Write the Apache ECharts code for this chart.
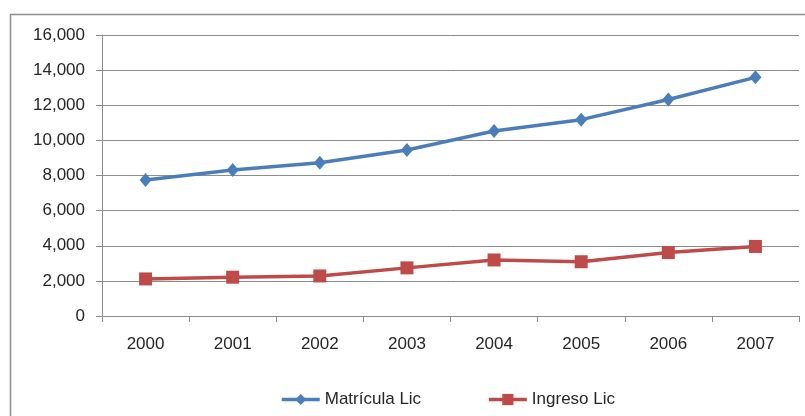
<!DOCTYPE html>
<html>
<head>
<meta charset="utf-8">
<script src="https://cdn.jsdelivr.net/npm/echarts@6/dist/echarts.min.js"></script>
<style>
html,body{margin:0;padding:0;background:#fff;}
#c{width:805px;height:416px;}
</style>
</head>
<body>
<div id="c"></div>
<script>
var categories = ['2000','2001','2002','2003','2004','2005','2006','2007'];
var matricula = [7750, 8310, 8720, 9450, 10530, 11180, 12330, 13590];
var ingreso = [2110, 2210, 2280, 2740, 3190, 3090, 3610, 3960];
var seriesNames = ['Matrícula Lic', 'Ingreso Lic'];

var chart = echarts.init(document.getElementById('c'));
var font = 'Liberation Sans, Arial, sans-serif';
chart.setOption({
  animation: false,
  backgroundColor: '#fff',
  graphic: [{
    type: 'rect',
    shape: {x: 10.5, y: 14.5, width: 900, height: 500},
    style: {fill: 'none', stroke: '#8c8c8c', lineWidth: 1.5},
    silent: true
  }],
  grid: {left: 102, top: 35, right: 6, bottom: 100, containLabel: false},
  legend: {
    top: 386,
    left: 275,
    itemGap: 66,
    itemWidth: 38,
    itemHeight: 14,
    lineStyle: {width: 3.5},
    textStyle: {fontFamily: font, fontSize: 17, color: '#262626'},
    data: seriesNames
  },
  xAxis: {
    type: 'category',
    data: categories,
    boundaryGap: true,
    axisLine: {show: true, lineStyle: {color: '#8c8c8c', width: 1}},
    axisTick: {show: true, interval: 0, length: 6, lineStyle: {color: '#8c8c8c'}},
    axisLabel: {fontFamily: font, fontSize: 17, color: '#262626', margin: 20}
  },
  yAxis: {
    type: 'value',
    min: 0,
    max: 16000,
    interval: 2000,
    axisLine: {show: true, lineStyle: {color: '#8c8c8c', width: 1}},
    axisTick: {show: true, length: 6, lineStyle: {color: '#8c8c8c'}},
    splitLine: {show: true, lineStyle: {color: '#8c8c8c', width: 1}},
    axisLabel: {
      fontFamily: font, fontSize: 17, color: '#262626', margin: 17,
      formatter: function (v) { return v.toLocaleString('en-US'); }
    }
  },
  series: [{
    name: seriesNames[0],
    type: 'line',
    data: matricula,
    symbol: 'diamond',
    symbolSize: [12, 14],
    lineStyle: {color: '#4a7ebb', width: 3.5},
    itemStyle: {color: '#4a7ebb'}
  }, {
    name: seriesNames[1],
    type: 'line',
    data: ingreso,
    symbol: 'rect',
    symbolSize: 13,
    lineStyle: {color: '#be4b48', width: 3.5},
    itemStyle: {color: '#be4b48'}
  }]
});
</script>
</body>
</html>
